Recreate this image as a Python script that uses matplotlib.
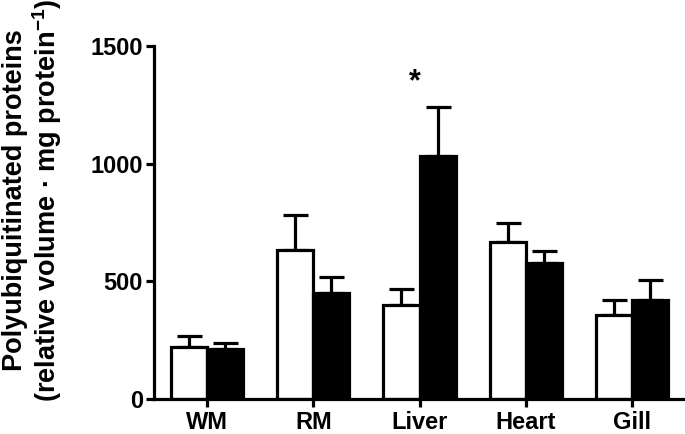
import numpy as np
from matplotlib import pyplot as plt

plt.rcParams['font.family'] = ['Liberation Sans', 'DejaVu Sans']
plt.rcParams['font.weight'] = 'bold'
plt.rcParams['mathtext.fontset'] = 'custom'
plt.rcParams['mathtext.bf'] = 'Liberation Sans:bold'
plt.rcParams['mathtext.rm'] = 'Liberation Sans:bold'
plt.rcParams['mathtext.default'] = 'bf'

tissues = ['WM', 'RM', 'Liver', 'Heart', 'Gill']
# open bars
white_vals = [222, 635, 398, 669, 359]
white_err = [45, 145, 69, 78, 62]
# filled bars
black_vals = [213, 450, 1031, 577, 419]
black_err = [27, 67, 211, 53, 85]
sig_index = 2  # asterisk over Liver

fig = plt.figure(figsize=(6.85, 4.34), dpi=100)
ax = fig.add_axes([154/685, 1 - 399/434, 1 - 154/685, (399 - 46)/434])

x = np.arange(len(tissues))
w = 0.34
lw = 2.3

ax.bar(x - w/2, white_vals, w, color='white', edgecolor='black', linewidth=lw, zorder=2)
ax.bar(x + w/2, black_vals, w, color='black', edgecolor='black', linewidth=lw, zorder=2)
ax.errorbar(x - w/2, white_vals, yerr=[np.zeros(5), white_err], fmt='none',
            ecolor='black', elinewidth=lw, capsize=9, capthick=lw, zorder=1)
ax.errorbar(x + w/2, black_vals, yerr=[np.zeros(5), black_err], fmt='none',
            ecolor='black', elinewidth=lw, capsize=9, capthick=lw, zorder=1)

ax.text(sig_index - 0.04, 1345, '*', ha='center', va='center', fontsize=22, fontweight='bold')

ax.set_xlim(-0.5, 4.5)
ax.set_ylim(0, 1500)
ax.set_yticks([0, 500, 1000, 1500])
ax.set_xticks(x)
ax.set_xticklabels(tissues)
ax.tick_params(axis='both', width=lw, length=6, labelsize=17, direction='out')
ax.tick_params(axis='x', pad=2.5)
ax.tick_params(axis='y', pad=2)
for lab in ax.get_xticklabels() + ax.get_yticklabels():
    lab.set_fontweight('bold')

for s in ['top', 'right']:
    ax.spines[s].set_visible(False)
for s in ['left', 'bottom']:
    ax.spines[s].set_linewidth(lw)
ax.spines['bottom'].set_clip_on(False)

fig.text(33/685, 1 - 200/434,
         'Polyubiquitinated proteins\n(relative volume \u00b7 mg protein$^{-1}$)',
         rotation=90, ha='center', va='center', multialignment='center',
         fontsize=19.5, fontweight='bold', linespacing=1.05)

fig.savefig('out.png', dpi=100)
